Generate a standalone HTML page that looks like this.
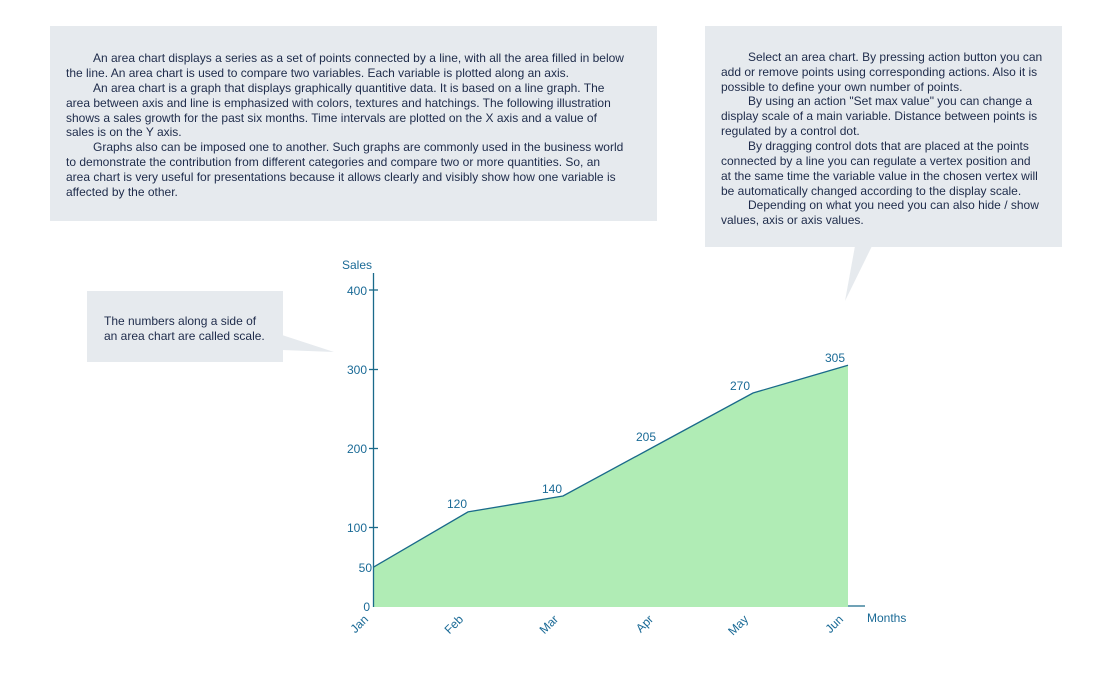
<!DOCTYPE html>
<html><head><meta charset="utf-8"><style>
body{margin:0;background:#fff;width:1104px;height:690px;overflow:hidden}
svg{display:block}
text{font-family:"Liberation Sans","DejaVu Sans",sans-serif}
.t{font-size:12px;fill:#1e2b4a}
.a{font-size:12px;fill:#1a6a96}
</style></head><body>
<svg width="1104" height="690" viewBox="0 0 1104 690">
<rect x="50" y="26" width="607" height="195" fill="#e6eaee"/>
<rect x="705" y="26" width="357" height="221" fill="#e6eaee"/>
<polygon points="855,246 872,246 845,301" fill="#e6eaee"/>
<rect x="87" y="291" width="196" height="71" fill="#e6eaee"/>
<polygon points="282,335 282,350 334,352" fill="#e6eaee"/>
<g class="t">
<text x="93" y="62">An area chart displays a series as a set of points connected by a line, with all the area filled in below</text>
<text x="66" y="77">the line. An area chart is used to compare two variables. Each variable is plotted along an axis.</text>
<text x="93" y="92">An area chart is a graph that displays graphically quantitive data. It is based on a line graph. The</text>
<text x="66" y="107">area between axis and line is emphasized with colors, textures and hatchings. The following illustration</text>
<text x="66" y="122">shows a sales growth for the past six months. Time intervals are plotted on the X axis and a value of</text>
<text x="66" y="136">sales is on the Y axis.</text>
<text x="93" y="151">Graphs also can be imposed one to another. Such graphs are commonly used in the business world</text>
<text x="66" y="166">to demonstrate the contribution from different categories and compare two or more quantities. So, an</text>
<text x="66" y="181">area chart is very useful for presentations because it allows clearly and visibly show how one variable is</text>
<text x="66" y="196">affected by the other.</text>
<text x="748" y="61">Select an area chart. By pressing action button you can</text>
<text x="721" y="76">add or remove points using corresponding actions. Also it is</text>
<text x="721" y="91">possible to define your own number of points.</text>
<text x="748" y="105">By using an action "Set max value" you can change a</text>
<text x="721" y="120">display scale of a main variable. Distance between points is</text>
<text x="721" y="135">regulated by a control dot.</text>
<text x="748" y="150">By dragging control dots that are placed at the points</text>
<text x="721" y="165">connected by a line you can regulate a vertex position and</text>
<text x="721" y="180">at the same time the variable value in the chosen vertex will</text>
<text x="721" y="195">be automatically changed according to the display scale.</text>
<text x="748" y="209">Depending on what you need you can also hide / show</text>
<text x="721" y="224">values, axis or axis values.</text>
<text x="104" y="325">The numbers along a side of</text>
<text x="104" y="340">an area chart are called scale.</text>
</g>
<polygon points="373,607 373,567.4 468,511.9 563,496 658,444.5 753,393 848,365.3 848,607" fill="#b0ecb5"/>
<polyline points="373,567.4 468,511.9 563,496 658,444.5 753,393 848,365.3" fill="none" stroke="#1a6a8a" stroke-width="1.3"/>
<line x1="373.5" y1="273" x2="373.5" y2="607" stroke="#1a6a8a" stroke-width="1.3"/>
<g stroke="#1a6a8a" stroke-width="1.3">
<line x1="369" y1="290" x2="378" y2="290"/>
<line x1="369" y1="369.5" x2="378" y2="369.5"/>
<line x1="369" y1="448.5" x2="378" y2="448.5"/>
<line x1="369" y1="527.5" x2="378" y2="527.5"/>
<line x1="848" y1="606" x2="865" y2="606"/>
</g>
<g class="a" text-anchor="end">
<text x="367" y="295">400</text>
<text x="367" y="374">300</text>
<text x="367" y="453">200</text>
<text x="367" y="532">100</text>
<text x="372" y="572">50</text>
<text x="370" y="611">0</text>
</g>
<text class="a" x="342" y="269">Sales</text>
<text class="a" x="867" y="622">Months</text>
<g class="a" text-anchor="middle">
<text x="457" y="508">120</text>
<text x="552" y="493">140</text>
<text x="646" y="441">205</text>
<text x="740" y="390">270</text>
<text x="835" y="362">305</text>
</g>
<g class="a" text-anchor="end">
<text transform="translate(369,620) rotate(-45)">Jan</text>
<text transform="translate(464,620) rotate(-45)">Feb</text>
<text transform="translate(559,620) rotate(-45)">Mar</text>
<text transform="translate(654,620) rotate(-45)">Apr</text>
<text transform="translate(749,620) rotate(-45)">May</text>
<text transform="translate(844,620) rotate(-45)">Jun</text>
</g>
</svg>
</body></html>
